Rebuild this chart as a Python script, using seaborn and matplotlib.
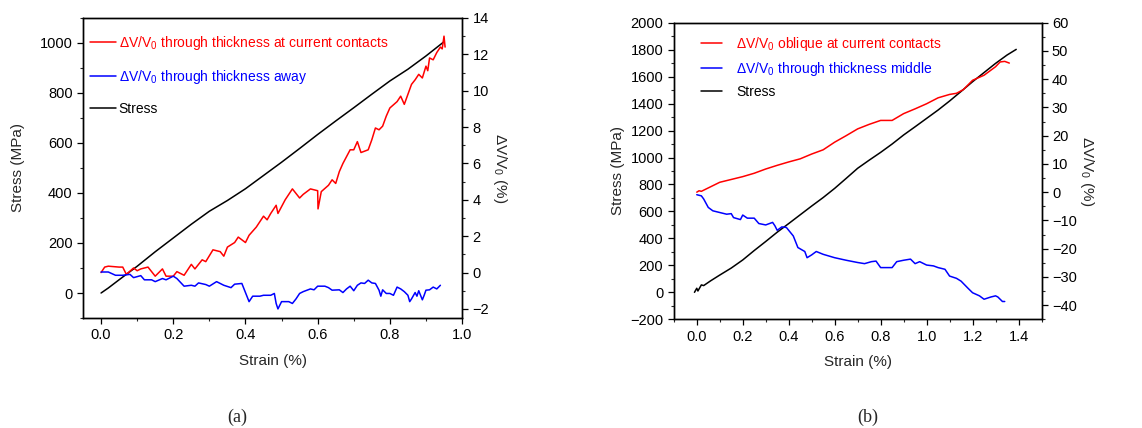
import matplotlib
matplotlib.use("Agg")
import matplotlib.pyplot as plt
import seaborn as sns
from matplotlib.ticker import MultipleLocator

# ---------------- data: panel (a) ----------------
a_stress_strain = [0.0, 0.02, 0.05, 0.1, 0.15, 0.2, 0.25, 0.3, 0.35, 0.4, 0.45, 0.5, 0.55,
                   0.6, 0.65, 0.7, 0.75, 0.8, 0.85, 0.9, 0.95]
a_stress = [0, 20, 53, 107, 165, 220, 275, 327, 370, 417, 470, 523, 578,
            634, 688, 741, 795, 848, 895, 948, 1005]

a_red_strain = [0.0, 0.01, 0.02, 0.05, 0.06, 0.07, 0.09, 0.10, 0.11, 0.13, 0.15, 0.17, 0.18,
                0.20, 0.21, 0.23, 0.25, 0.26, 0.28, 0.29, 0.31, 0.33, 0.34, 0.35, 0.37, 0.38,
                0.40, 0.41, 0.43, 0.45, 0.46, 0.47, 0.485, 0.49, 0.51, 0.53, 0.55, 0.56, 0.58,
                0.60, 0.601, 0.61, 0.63, 0.64, 0.65, 0.66, 0.67, 0.69, 0.70, 0.71, 0.72, 0.74,
                0.75, 0.76, 0.77, 0.78, 0.79, 0.80, 0.82, 0.83, 0.84, 0.85, 0.86, 0.87, 0.88,
                0.89, 0.90, 0.905, 0.91, 0.92, 0.93, 0.94, 0.945, 0.95, 0.953]
a_red = [0.0, 0.3, 0.35, 0.3, 0.3, -0.1, 0.25, 0.1, 0.2, 0.3, -0.2, 0.2, -0.2,
         -0.2, 0.05, -0.15, 0.45, 0.2, 0.7, 0.6, 1.25, 1.15, 0.9, 1.4, 1.65, 1.95,
         1.65, 2.05, 2.5, 3.1, 2.9, 3.25, 3.7, 3.25, 4.0, 4.6, 4.1, 4.3, 4.6,
         4.5, 3.5, 4.45, 4.8, 5.1, 4.9, 5.55, 6.0, 6.75, 6.75, 7.2, 6.6, 6.75,
         7.3, 7.95, 7.85, 8.05, 8.6, 9.05, 9.4, 9.7, 9.25, 9.8, 10.35, 10.6, 10.9,
         10.7, 11.35, 11.1, 11.8, 11.7, 12.1, 12.4, 12.3, 13.0, 12.4]

a_blue_strain = [0.0, 0.02, 0.04, 0.06, 0.08, 0.09, 0.11, 0.12, 0.14, 0.15, 0.17, 0.18, 0.20,
                 0.21, 0.23, 0.25, 0.26, 0.27, 0.29, 0.30, 0.32, 0.34, 0.36, 0.37, 0.39,
                 0.41, 0.42, 0.44, 0.45, 0.47, 0.48, 0.485, 0.49, 0.50, 0.52, 0.53, 0.54,
                 0.55, 0.56, 0.58, 0.59, 0.60, 0.62, 0.63, 0.64, 0.66, 0.67, 0.68, 0.69,
                 0.70, 0.71, 0.72, 0.73, 0.74, 0.75, 0.76, 0.77, 0.775, 0.78, 0.79, 0.80,
                 0.81, 0.82, 0.83, 0.84, 0.85, 0.855, 0.86, 0.87, 0.875, 0.88, 0.89, 0.895,
                 0.90, 0.91, 0.92, 0.93, 0.94]
a_blue = [0.03, 0.03, -0.15, -0.15, -0.1, -0.28, -0.17, -0.4, -0.4, -0.5, -0.33, -0.4, -0.2,
          -0.33, -0.75, -0.7, -0.75, -0.57, -0.66, -0.75, -0.5, -0.7, -0.83, -0.64, -0.6,
          -1.6, -1.3, -1.3, -1.25, -1.25, -1.15, -1.7, -2.0, -1.6, -1.6, -1.7, -1.45,
          -1.15, -1.05, -0.9, -0.95, -0.75, -0.75, -0.83, -0.97, -0.95, -1.1, -0.9, -0.75,
          -1.0, -0.7, -0.57, -0.6, -0.42, -0.57, -0.6, -0.97, -1.3, -0.95, -1.15, -1.15,
          -1.25, -0.8, -0.9, -1.05, -1.25, -1.6, -1.45, -1.1, -1.3, -1.0, -1.5, -1.25,
          -0.97, -0.95, -0.8, -0.9, -0.7]

# ---------------- data: panel (b) ----------------
b_stress_strain = [-0.01, 0.0, 0.005, 0.02, 0.03, 0.06, 0.1, 0.15, 0.2, 0.25, 0.3, 0.35, 0.4,
                   0.45, 0.5, 0.55, 0.6, 0.65, 0.7, 0.75, 0.8, 0.85, 0.9, 0.95, 1.0, 1.05,
                   1.1, 1.15, 1.2, 1.25, 1.3, 1.35, 1.39]
b_stress = [0, 30, 10, 55, 50, 85, 128, 180, 240, 310, 377, 446, 510,
            575, 640, 703, 771, 845, 920, 980, 1038, 1100, 1167, 1228, 1290, 1352,
            1419, 1490, 1562, 1630, 1698, 1760, 1802]

b_red_strain = [0.0, 0.01, 0.02, 0.05, 0.1, 0.15, 0.2, 0.25, 0.3, 0.35, 0.4, 0.45, 0.5,
                0.55, 0.6, 0.65, 0.7, 0.75, 0.8, 0.85, 0.9, 0.95, 1.0, 1.05, 1.1, 1.13,
                1.16, 1.2, 1.25, 1.3, 1.32, 1.34, 1.36]
b_red = [0.0, 0.5, 0.3, 1.5, 3.5, 4.5, 5.5, 6.7, 8.2, 9.5, 10.7, 11.8, 13.5,
         15.0, 17.7, 20.0, 22.4, 24.0, 25.4, 25.4, 27.8, 29.5, 31.3, 33.4, 34.6, 35.0,
         36.3, 39.6, 41.4, 44.4, 46.1, 46.3, 45.7]

b_blue_strain = [0.0, 0.02, 0.03, 0.05, 0.07, 0.10, 0.13, 0.15, 0.16, 0.19, 0.20, 0.22, 0.25,
                 0.27, 0.30, 0.33, 0.34, 0.35, 0.37, 0.39, 0.42, 0.44, 0.47, 0.48, 0.50,
                 0.52, 0.55, 0.60, 0.65, 0.70, 0.73, 0.76, 0.78, 0.80, 0.85, 0.87, 0.90,
                 0.93, 0.95, 0.97, 1.00, 1.03, 1.05, 1.08, 1.10, 1.13, 1.15, 1.18, 1.20,
                 1.23, 1.25, 1.28, 1.30, 1.31, 1.33, 1.34]
b_blue = [-0.9, -1.3, -2.4, -5.4, -6.6, -7.2, -7.8, -7.6, -9.0, -9.7, -8.1, -9.2, -9.2,
          -11.1, -11.6, -10.7, -11.9, -13.5, -12.3, -12.5, -15.5, -19.6, -21.0, -23.2, -22.2,
          -21.0, -22.0, -23.2, -24.1, -24.9, -25.3, -24.6, -24.4, -26.7, -26.7, -24.6, -24.1,
          -23.7, -25.3, -24.6, -25.8, -26.1, -26.7, -27.3, -29.7, -30.5, -31.5, -34.0, -35.6,
          -36.7, -37.9, -37.1, -36.7, -37.1, -38.7, -38.7]

labels_a = ["ΔV/V$_0$ through thickness at current contacts",
            "ΔV/V$_0$ through thickness away", "Stress"]
labels_b = ["ΔV/V$_0$ oblique at current contacts",
            "ΔV/V$_0$ through thickness middle", "Stress"]

sns.set_style("ticks")
plt.rcParams["font.family"] = ["Liberation Sans", "DejaVu Sans"]
plt.rcParams["font.size"] = 10
plt.rcParams["mathtext.fontset"] = "custom"
plt.rcParams["mathtext.rm"] = "Liberation Sans"
plt.rcParams["mathtext.it"] = "Liberation Sans:italic"

fig = plt.figure(figsize=(11.42, 4.28), dpi=100)
axa = fig.add_axes([0.0727, 0.257, 0.3319, 0.701])
axb = fig.add_axes([0.590, 0.254, 0.322, 0.693])


def style(ax, ax2):
    for a in (ax, ax2):
        for s in a.spines.values():
            s.set_linewidth(1.0)
            s.set_color("black")
        a.tick_params(which="major", direction="out", length=4, width=0.9, labelsize=10.5,
                      colors="black")
        a.tick_params(which="minor", direction="out", length=2.5, width=0.8)


def panel(ax, sx, sy, rx, ry, bx, by, labels, xlim, ylim, y2lim, ymaj, y2maj, xticks):
    ax2 = ax.twinx()
    sns.lineplot(x=sx, y=sy, ax=ax, color="black", lw=1.1, sort=False, estimator=None,
                 label=labels[2], legend=False)
    sns.lineplot(x=rx, y=ry, ax=ax2, color="#ff0000", lw=1.1, sort=False, estimator=None,
                 label=labels[0], legend=False)
    sns.lineplot(x=bx, y=by, ax=ax2, color="#0000ff", lw=1.1, sort=False, estimator=None,
                 label=labels[1], legend=False)
    ax.set_xticks(xticks)
    ax.set_xticklabels([f"{t:.1f}" for t in xticks])
    ax.xaxis.set_minor_locator(MultipleLocator(0.1))
    ax.set_xlim(*xlim)
    ax.yaxis.set_major_locator(MultipleLocator(ymaj))
    ax.yaxis.set_minor_locator(MultipleLocator(ymaj / 2))
    ax2.yaxis.set_major_locator(MultipleLocator(y2maj))
    ax2.yaxis.set_minor_locator(MultipleLocator(y2maj / 2))
    ax.set_ylim(*ylim)
    ax2.set_ylim(*y2lim)
    ax.set_xlabel("Strain (%)", fontsize=11, labelpad=8)
    ax.set_ylabel("Stress (MPa)", fontsize=11)
    ax2.set_ylabel("ΔV/V$_0$ (%)", fontsize=11, rotation=270, labelpad=14)
    style(ax, ax2)
    h2 = ax2.get_lines()
    h1 = ax.get_lines()
    return ax2, [h2[0], h2[1], h1[0]]


ax2a, ha = panel(axa, a_stress_strain, a_stress, a_red_strain, a_red, a_blue_strain, a_blue,
                 labels_a, (-0.05, 1.0), (-100, 1100), (-2.5, 14), 200, 2,
                 [0.0, 0.2, 0.4, 0.6, 0.8, 1.0])
ax2b, hb = panel(axb, b_stress_strain, b_stress, b_red_strain, b_red, b_blue_strain, b_blue,
                 labels_b, (-0.1, 1.5), (-200, 2000), (-45, 60), 200, 10,
                 [0.0, 0.2, 0.4, 0.6, 0.8, 1.0, 1.2, 1.4])
axa.yaxis.set_label_coords(-0.152, 0.5)

ax2a.legend(ha, labels_a, loc="upper left", bbox_to_anchor=(-0.01, 0.985), frameon=False,
            labelcolor=["#ff0000", "#0000ff", "black"], fontsize=10, handlelength=1.85,
            handletextpad=0.2, labelspacing=1.15, borderaxespad=0.4)
ax2b.legend(hb, labels_b, loc="upper left", bbox_to_anchor=(0.045, 0.995), frameon=False,
            labelcolor=["#ff0000", "#0000ff", "black"], fontsize=10, handlelength=1.5,
            handletextpad=1.0, labelspacing=0.5, borderaxespad=0.4)

fig.text(0.2075, 0.026, "(a)", ha="center", va="center", fontsize=13,
         family=["Liberation Serif", "DejaVu Serif"])
fig.text(0.7595, 0.026, "(b)", ha="center", va="center", fontsize=13,
         family=["Liberation Serif", "DejaVu Serif"])

fig.savefig("out.png", dpi=100)
